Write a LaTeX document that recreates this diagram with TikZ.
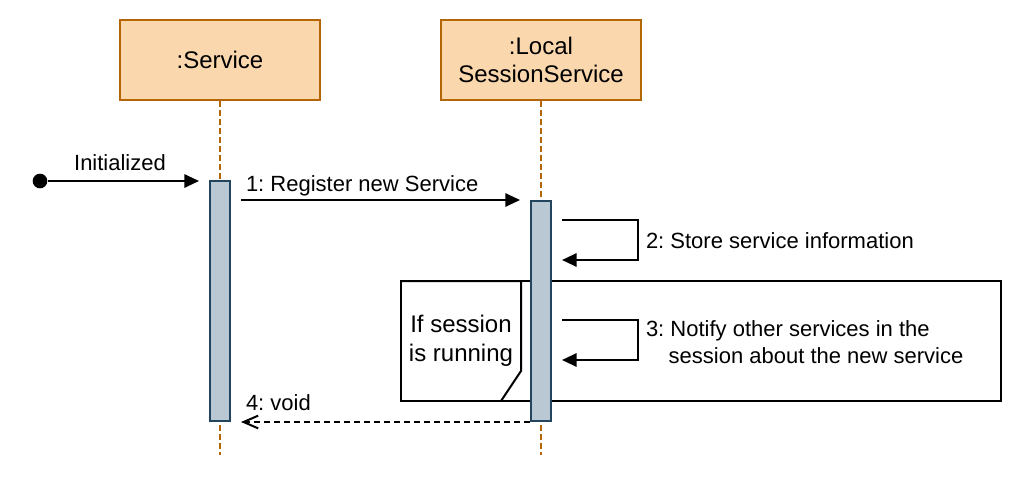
\documentclass[tikz,border=0pt]{standalone}
\usepackage{fontspec}
\setmainfont{Liberation Sans}
\usetikzlibrary{arrows.meta}
\definecolor{objfill}{HTML}{FAD7AC}
\definecolor{objline}{HTML}{B46504}
\definecolor{actfill}{HTML}{BAC8D3}
\definecolor{actline}{HTML}{23445D}
\frenchspacing

\begin{document}
\begin{tikzpicture}[x=0.75pt,y=-0.75pt,line width=1.5pt,
    >={Triangle[length=11pt,width=10pt]},
    obj/.style={draw=objline,fill=objfill,minimum width=150pt,minimum height=60pt,
        inner sep=0pt,align=center,font=\fontsize{18}{21.6}\selectfont},
    act/.style={draw=actline,fill=actfill,minimum width=15pt,inner sep=0pt},
    life/.style={draw=objline,dash pattern=on 4.5pt off 2.25pt},
    dot/.style={circle,fill,inner sep=0pt,minimum size=11pt},
    frame/.style={draw,minimum width=450pt,minimum height=90pt,inner sep=0pt,outer sep=0pt},
    cond/.style={align=center,inner sep=0pt,font=\fontsize{18}{21.6}\selectfont},
    msg/.style={inner sep=0pt,font=\fontsize{16.5}{20.6}\selectfont},
    ret/.style={dash pattern=on 4.5pt off 3pt,-{Straight Barb[length=11pt,width=9.5pt]}}]
    \useasboundingbox (0,0) rectangle (1022,482);
    \node[obj] (svc) at (220,60) {:Service};
    \node[obj] (lss) at (541,60) {:Local\\SessionService};
    \coordinate (svcend) at (220,455);
    \coordinate (lssend) at (541,455);
    \draw[life] (svc) -- (svcend);
    \draw[life] (lss) -- (lssend);
    \node[frame] (alt) at (701,341) {};
    \draw (alt.north west) -- ++(120,0) -- ++(0,90) -- ++(-20,30);
    \node[cond] (cnd) at (461,341) {If session\\is running};
    \node[act,minimum height=180pt] (sbar) at (220,301) {};
    \node[act,minimum height=165pt] (lbar) at (541,311) {};
    \node[dot] (start) at (40,181) {};
    \draw[->,shorten >=7.5pt] (start) -- (start -| sbar.west);
    \node[msg,anchor=base] (linit) at (120,170) {Initialized};
    \draw[->,shorten <=7.5pt,shorten >=7.5pt] (lbar.north -| sbar.east) -- (lbar.north west);
    \node[msg,anchor=base west] (lreg) at (245,191) {1: Register new Service};
    \draw[->] ([shift={(10,20)}]lbar.north east) -- ++(76,0) -- ++(0,40) -- ++(-76,0);
    \node[msg,anchor=west] (lstore) at (645,241) {2: Store service information};
    \draw[->] ([shift={(10,120)}]lbar.north east) -- ++(76,0) -- ++(0,40) -- ++(-76,0);
    \node[msg,anchor=west,align=left] (lnotify) at (645,342)
        {3: Notify other services in the\\\hspace*{17pt}session about the new service};
    \draw[ret,shorten >=7.5pt] (lbar.south west) -- (lbar.south west -| sbar.east);
    \node[msg,anchor=base west] (lvoid) at (245,410) {4: void};
\end{tikzpicture}
\end{document}
